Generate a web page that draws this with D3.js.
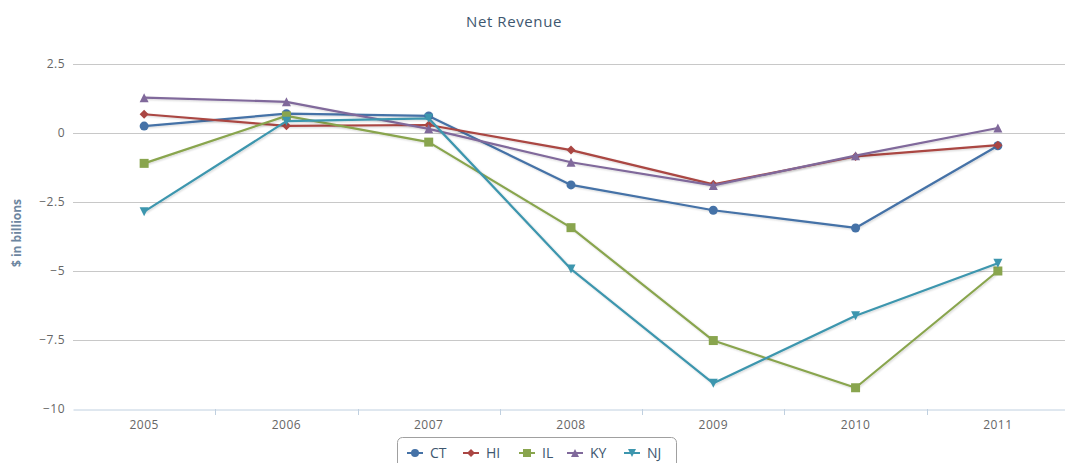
<!DOCTYPE html>
<html>
<head>
<meta charset="utf-8">
<script src="https://cdn.jsdelivr.net/npm/d3@7"></script>
<style>
  html, body { margin: 0; padding: 0; background: #fff; }
  svg { display: block; font-family: "Open Sans", "DejaVu Sans", sans-serif; }
</style>
</head>
<body>
<svg id="chart" width="1065" height="463"></svg>
<script>
// Net revenue by state, $ in billions
const years = ["2005", "2006", "2007", "2008", "2009", "2010", "2011"];
const yTicks = [2.5, 0, -2.5, -5, -7.5, -10];
const seriesNames = ["CT", "HI", "IL", "KY", "NJ"];
const ctValues = [0.25, 0.7, 0.62, -1.88, -2.8, -3.44, -0.46];
const hiValues = [0.68, 0.26, 0.29, -0.62, -1.86, -0.85, -0.44];
const ilValues = [-1.1, 0.62, -0.33, -3.43, -7.52, -9.23, -5.0];
const kyValues = [1.28, 1.13, 0.15, -1.06, -1.9, -0.82, 0.18];
const njValues = [-2.85, 0.43, 0.53, -4.93, -9.07, -6.62, -4.72];

const colors = ["#4572A7", "#AA4643", "#89A54E", "#80699B", "#3D96AE"];
const symbols = ["circle", "diamond", "square", "triangle", "triangleDown"];
const seriesValues = [ctValues, hiValues, ilValues, kyValues, njValues];
const series = seriesNames.map((name, i) => ({ name, values: seriesValues[i], color: colors[i], symbol: symbols[i] }));

const svg = d3.select("#chart");
const plot = { left: 73, right: 1069, top: 64, bottom: 409 };

const x = d3.scaleBand().domain(years).range([plot.left, plot.right]);
const y = d3.scaleLinear().domain([-10, 2.5]).range([plot.bottom, plot.top]);

// soft shadow under the series lines
const defs = svg.append("defs");
const f = defs.append("filter").attr("id", "shadow").attr("x", "-5%").attr("y", "-5%").attr("width", "110%").attr("height", "120%");
f.append("feGaussianBlur").attr("in", "SourceAlpha").attr("stdDeviation", 1.2);
f.append("feOffset").attr("dx", 1).attr("dy", 1).attr("result", "b");
f.append("feComponentTransfer").append("feFuncA").attr("type", "linear").attr("slope", 0.18);
const m = f.append("feMerge");
m.append("feMergeNode");
m.append("feMergeNode").attr("in", "SourceGraphic");

// title
svg.append("text")
  .attr("x", 514).attr("y", 27)
  .attr("text-anchor", "middle")
  .attr("fill", "#3E576F")
  .style("font-size", "15px")
  .style("letter-spacing", "0.6px")
  .text("Net Revenue");

// horizontal grid lines
svg.append("g")
  .selectAll("line")
  .data(yTicks.filter(t => t !== -10))
  .join("line")
  .attr("x1", plot.left).attr("x2", plot.right)
  .attr("y1", d => Math.round(y(d)) + 0.5).attr("y2", d => Math.round(y(d)) + 0.5)
  .attr("stroke", "#C8C8C8").attr("stroke-width", 1);

// y axis labels
const yAxis = d3.axisLeft(y).tickValues(yTicks).tickSize(0).tickPadding(8)
  .tickFormat(d => d3.format("")(d).replace("-", "\u2212"));
const gy = svg.append("g").attr("transform", `translate(${plot.left},0)`).call(yAxis);
gy.select(".domain").remove();
gy.selectAll("text").attr("fill", "#666").style("font-size", "12px")
  .style("letter-spacing", "0.5px").style("font-family", "'Open Sans', sans-serif");

// y axis title
svg.append("text")
  .attr("transform", `translate(21,233) rotate(-90)`)
  .attr("text-anchor", "middle")
  .attr("fill", "#6D869F")
  .style("font-size", "12px")
  .style("font-weight", "bold")
  .text("$ in billions");

// x axis with tick marks between categories
const xAxis = d3.axisBottom(x).tickSize(0).tickPadding(11);
const gx = svg.append("g").attr("transform", `translate(0,${Math.round(y(-10)) + 0.5})`).call(xAxis);
gx.select(".domain").attr("stroke", "#C0D0E0");
gx.selectAll("text").attr("fill", "#666").style("font-size", "12px")
  .style("letter-spacing", "0.5px").style("font-family", "'Open Sans', sans-serif");
svg.append("g")
  .selectAll("line")
  .data(years.slice(1))
  .join("line")
  .attr("x1", d => Math.round(x(d)) + 0.5).attr("x2", d => Math.round(x(d)) + 0.5)
  .attr("y1", Math.round(y(-10))).attr("y2", Math.round(y(-10)) + 6)
  .attr("stroke", "#C0D0E0");

// marker shapes
function markerPath(sym, r) {
  if (sym === "diamond") return `M0,${-r}L${r},0L0,${r}L${-r},0Z`;
  if (sym === "triangleDown") return `M${-r},${-r}L${r},${-r}L0,${r}Z`;
  if (sym === "triangle") return `M0,${-r}L${r},${r}L${-r},${r}Z`;
  if (sym === "square") return `M${-r},${-r}H${r}V${r}H${-r}Z`;
  return d3.symbol(d3.symbolCircle, Math.PI * r * r)();
}

const line = d3.line()
  .x((d, i) => x(years[i]) + x.bandwidth() / 2)
  .y(d => y(d));

const gSeries = svg.append("g").selectAll("g").data(series).join("g");
gSeries.append("path")
  .attr("d", d => line(d.values))
  .attr("fill", "none")
  .attr("stroke", d => d.color)
  .attr("stroke-width", 2.2)
  .attr("stroke-linejoin", "round")
  .attr("filter", "url(#shadow)");
gSeries.each(function (s) {
  d3.select(this).selectAll("path.marker")
    .data(s.values)
    .join("path")
    .attr("class", "marker")
    .attr("transform", (d, i) => `translate(${x(years[i]) + x.bandwidth() / 2},${y(d)})`)
    .attr("d", markerPath(s.symbol, 4.5))
    .attr("fill", s.color);
});

// legend
const legend = svg.append("g");
legend.append("rect")
  .attr("x", 397.5).attr("y", 437.5).attr("width", 279).attr("height", 40)
  .attr("rx", 5).attr("ry", 5)
  .attr("fill", "#fff").attr("stroke", "#A0A0A0");
const itemX = [407, 463, 519, 567, 624];
const items = legend.selectAll("g.item").data(series).join("g")
  .attr("class", "item")
  .attr("transform", (d, i) => `translate(${itemX[i]},453)`);
items.append("line")
  .attr("x1", 0).attr("x2", 16).attr("y1", 0).attr("y2", 0)
  .attr("stroke", d => d.color).attr("stroke-width", 2);
items.append("path")
  .attr("transform", "translate(8,0)")
  .attr("d", d => markerPath(d.symbol, 4))
  .attr("fill", d => d.color);
items.append("text")
  .attr("x", 23).attr("y", 5)
  .attr("fill", "#3E576F")
  .style("font-size", "14px")
  .text(d => d.name);
</script>
</body>
</html>
